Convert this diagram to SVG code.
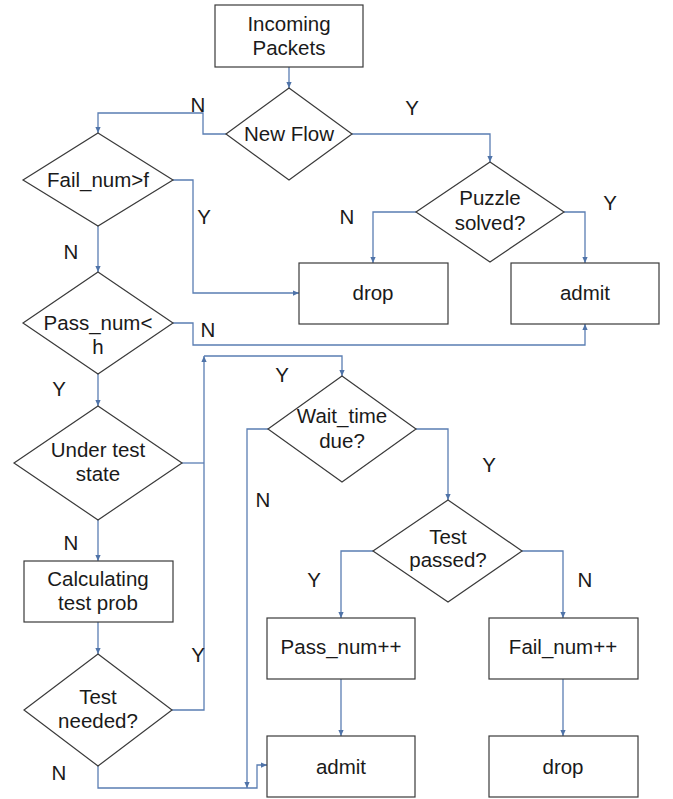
<svg xmlns="http://www.w3.org/2000/svg" width="673" height="799" viewBox="0 0 673 799">
<defs>
<marker id="ah" viewBox="0 0 8 8" refX="8" refY="4" markerWidth="6" markerHeight="6" markerUnits="userSpaceOnUse" orient="auto">
<path d="M0,0.5 L8,4 L0,7.5 z" fill="#4f73a8"/>
</marker>
<style>
.shape{fill:#ffffff;stroke:#3a3a3a;stroke-width:1.2}
.t{font-family:"Liberation Sans",Arial,sans-serif;font-size:20.5px;fill:#1a1a1a;text-anchor:middle}
.c{fill:none;stroke:#5a7db3;stroke-width:1.3}
.a{marker-end:url(#ah)}
</style>
</defs>
<rect width="673" height="799" fill="#ffffff"/>
<g id="connectors">
<path class="c a" d="M289,67 V88"/>
<path class="c a" d="M226,134 H203 V113 H98 V133"/>
<path class="c a" d="M352,134 H490 V162"/>
<path class="c a" d="M416,212 H373 V263"/>
<path class="c a" d="M564,212 H585 V263"/>
<path class="c a" d="M173,180 H193 V293 H299"/>
<path class="c a" d="M98,226 V272"/>
<path class="c a" d="M173,323 H193 V345 H585 V324"/>
<path class="c a" d="M98,374 V406"/>
<path class="c" d="M182,463 H204"/>
<path class="c a" d="M172,710 H204 V356"/>
<path class="c a" d="M204,356 H342 V376"/>
<path class="c a" d="M98,520 V561"/>
<path class="c a" d="M98,622 V654"/>
<path class="c a" d="M98,766 V788 H257 V765 H267"/>
<path class="c a" d="M268,429 H247 V788"/>
<path class="c a" d="M416,429 H448 V500"/>
<path class="c a" d="M373,551 H341 V618"/>
<path class="c a" d="M522,551 H563 V618"/>
<path class="c a" d="M341,679 V736"/>
<path class="c a" d="M563,679 V736"/>
</g>
<g id="labels">
<text class="t" x="198" y="112">N</text>
<text class="t" x="412" y="115">Y</text>
<text class="t" x="204" y="224">Y</text>
<text class="t" x="71" y="259">N</text>
<text class="t" x="347" y="224">N</text>
<text class="t" x="610" y="210">Y</text>
<text class="t" x="208" y="337">N</text>
<text class="t" x="59" y="396">Y</text>
<text class="t" x="282" y="382">Y</text>
<text class="t" x="263" y="507">N</text>
<text class="t" x="489" y="472">Y</text>
<text class="t" x="71" y="550">N</text>
<text class="t" x="198" y="662">Y</text>
<text class="t" x="59" y="780">N</text>
<text class="t" x="314" y="587">Y</text>
<text class="t" x="585" y="587">N</text>
</g>
<g id="incoming">
<rect class="shape" x="215" y="5" width="148" height="62"/>
<text class="t" x="289" y="31">Incoming</text>
<text class="t" x="289" y="55">Packets</text>
</g>
<g id="newflow">
<polygon class="shape" points="289,88 352,134 289,180 226,134"/>
<text class="t" x="289" y="141">New Flow</text>
</g>
<g id="failnum">
<polygon class="shape" points="98,133 173,180 98,226 23,180"/>
<text class="t" x="98" y="187">Fail_num&gt;f</text>
</g>
<g id="puzzle">
<polygon class="shape" points="490,162 564,212 490,262 416,212"/>
<text class="t" x="490" y="205">Puzzle</text>
<text class="t" x="490" y="230">solved?</text>
</g>
<g id="drop1">
<rect class="shape" x="299" y="263" width="149" height="61"/>
<text class="t" x="373" y="300">drop</text>
</g>
<g id="admit1">
<rect class="shape" x="511" y="263" width="148" height="61"/>
<text class="t" x="585" y="300">admit</text>
</g>
<g id="passnum">
<polygon class="shape" points="98,272 173,323 98,374 23,323"/>
<text class="t" x="98" y="330">Pass_num&lt;</text>
<text class="t" x="98" y="354">h</text>
</g>
<g id="undertest">
<polygon class="shape" points="98,406 182,463 98,520 14,463"/>
<text class="t" x="98" y="457">Under test</text>
<text class="t" x="98" y="481">state</text>
</g>
<g id="calc">
<rect class="shape" x="24" y="561" width="149" height="61"/>
<text class="t" x="98" y="586">Calculating</text>
<text class="t" x="98" y="610">test prob</text>
</g>
<g id="testneeded">
<polygon class="shape" points="98,654 172,710 98,766 24,710"/>
<text class="t" x="98" y="704">Test</text>
<text class="t" x="98" y="728">needed?</text>
</g>
<g id="waittime">
<polygon class="shape" points="342,376 416,429 342,482 268,429"/>
<text class="t" x="342" y="423">Wait_time</text>
<text class="t" x="342" y="448">due?</text>
</g>
<g id="testpassed">
<polygon class="shape" points="448,500 522,551 448,602 373,551"/>
<text class="t" x="448" y="544">Test</text>
<text class="t" x="448" y="567">passed?</text>
</g>
<g id="passpp">
<rect class="shape" x="267" y="618" width="148" height="61"/>
<text class="t" x="341" y="654">Pass_num++</text>
</g>
<g id="failpp">
<rect class="shape" x="489" y="618" width="149" height="61"/>
<text class="t" x="563" y="654">Fail_num++</text>
</g>
<g id="admit2">
<rect class="shape" x="267" y="736" width="148" height="61"/>
<text class="t" x="341" y="774">admit</text>
</g>
<g id="drop2">
<rect class="shape" x="489" y="736" width="149" height="61"/>
<text class="t" x="563" y="774">drop</text>
</g>
</svg>
